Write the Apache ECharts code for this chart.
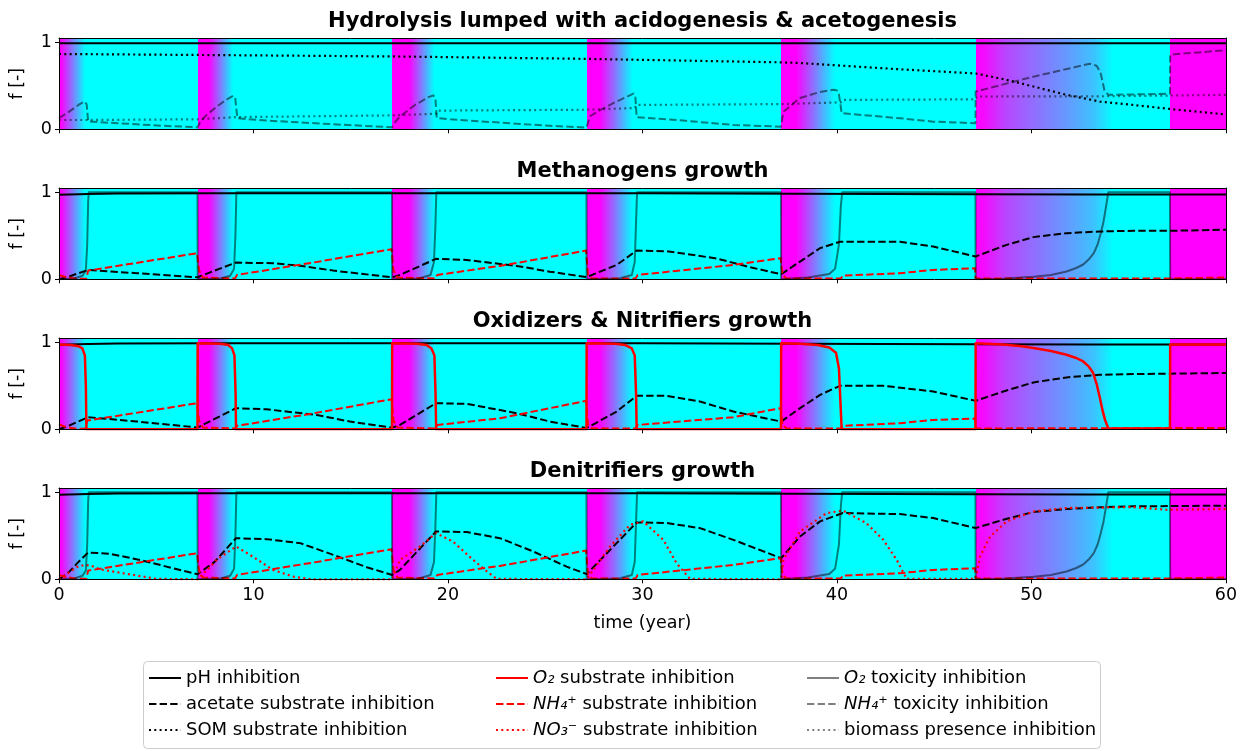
<!DOCTYPE html>
<html><head><meta charset="utf-8">
<script src="https://cdn.jsdelivr.net/npm/echarts/dist/echarts.min.js"></script>
<style>html,body{margin:0;padding:0;background:#fff}#c{width:1247px;height:751px}</style>
</head><body><div id="c"></div><script>
// ---------------- DATA ----------------
const titles = ['Hydrolysis lumped with acidogenesis & acetogenesis','Methanogens growth','Oxidizers & Nitrifiers growth','Denitrifiers growth'];
const periodStarts = [0, 7.13, 17.13, 27.13, 37.13, 47.13, 57.13];
const periodEnd = 60;
// background O2 level per period: [time, level] (1 = magenta / oxic, 0 = cyan / anoxic)
const bgO2 = [
  [[0,1],[0.1,1],[1.35,0]],
  [[7.13,1],[7.7,1],[8.95,0]],
  [[17.13,1],[18.0,1],[19.3,0]],
  [[27.13,1],[27.8,1],[29.5,0]],
  [[37.13,1],[37.9,1],[39.9,0]],
  [[47.13,1],[47.6,0.95],[48.7,0.72],[50.1,0.57],[51.8,0.4],[53.2,0.24],[54.2,0]],
  [[57.13,1],[60,1]]
];

const phHydro = [[0,0.99],[60,0.99]];
const phInhib = [[0,0.972],[0.5,0.976],[1.5,0.982],[3,0.988],[8,0.99],[30,0.99],[38,0.985],[47,0.978],[53,0.975],[60,0.974]];

const somHydro = [[0,0.866],[7.13,0.855],[17.13,0.838],[27.13,0.81],[37.13,0.77],[38.1,0.762],[43.24,0.69],[47.13,0.642],[48.72,0.569],[50.44,0.473],[51.81,0.396],[53.52,0.319],[55.23,0.28],[57.12,0.234],[59.86,0.173],[60,0.17]];

const nh4ToxHydro = [
 [0,0.13],[0.5,0.2],[1.0,0.28],[1.3,0.32],[1.42,0.29],[1.5,0.09],[3,0.07],[5.4,0.04],[7.12,0.023],
 [7.13,0.02],[7.3,0.1],[7.59,0.165],[8.1,0.26],[8.6,0.34],[8.96,0.385],[9.06,0.36],[9.17,0.127],[10.68,0.1],[14.1,0.058],[17.12,0.023],
 [17.13,0.02],[17.3,0.09],[17.53,0.146],[18.3,0.28],[19.0,0.37],[19.24,0.39],[19.35,0.36],[19.42,0.13],[20.1,0.115],[22.67,0.077],[25.24,0.04],[27.12,0.02],
 [27.13,0.02],[27.3,0.15],[27.81,0.22],[28.67,0.32],[29.53,0.41],[29.63,0.38],[29.7,0.14],[32.1,0.1],[34.67,0.05],[37.12,0.03],
 [37.13,0.03],[37.24,0.2],[38.1,0.36],[39.13,0.43],[39.81,0.454],[39.98,0.45],[40.1,0.4],[40.24,0.185],[43.24,0.127],[44.95,0.088],[47.12,0.07],
 [47.13,0.434],[50.0,0.6],[53.0,0.754],[53.35,0.73],[53.55,0.65],[53.75,0.45],[53.95,0.396],[56.95,0.408],[57.12,0.41],
 [57.13,0.858],[59.86,0.908],[60,0.91]];

const biomassHydro = [[0,0.107],[1.5,0.107],[7.13,0.115],[9.1,0.14],[9.2,0.153],[17.13,0.16],[19.4,0.18],[19.5,0.215],[27.13,0.225],[29.6,0.245],[29.7,0.28],[37.13,0.29],[40.2,0.31],[40.3,0.338],[47.13,0.345],[47.2,0.377],[53.9,0.38],[54.0,0.39],[60,0.396]];

const o2Tox = [
 [0,0],[0.8,0.01],[1.2,0.04],[1.38,0.1],[1.45,0.4],[1.5,0.9],[1.53,1],[7.12,1],[7.13,0],
 [8.3,0.01],[8.8,0.04],[9.0,0.12],[9.07,0.5],[9.12,1],[17.12,1],[17.13,0],
 [18.5,0.01],[19.1,0.05],[19.28,0.2],[19.35,0.6],[19.4,1],[27.12,1],[27.13,0],
 [28.8,0.01],[29.45,0.05],[29.6,0.2],[29.66,0.6],[29.72,1],[37.12,1],[37.13,0],
 [38.5,0.02],[39.6,0.06],[39.9,0.12],[40.1,0.4],[40.2,0.85],[40.27,1],[47.12,1],[47.13,0],
 [48.5,0.005],[50.1,0.03],[51.0,0.05],[51.8,0.09],[52.3,0.13],[52.66,0.17],[52.95,0.23],[53.2,0.3],[53.4,0.4],[53.55,0.52],[53.7,0.66],[53.82,0.82],[53.95,1],[57.12,1],[57.13,0],[60,0]];

const acetMeth = [
 [0,0],[0.5,0.03],[1.0,0.07],[1.5,0.108],[4,0.07],[7.13,0.023],
 [8.0,0.1],[9.1,0.192],[11.0,0.185],[12.4,0.155],[14.1,0.1],[17.13,0.023],
 [17.53,0.05],[19.38,0.235],[20.96,0.223],[23.53,0.154],[25.24,0.088],[27.13,0.025],
 [28.67,0.165],[29.7,0.33],[31.24,0.323],[33.81,0.24],[35.53,0.139],[37.13,0.058],
 [38.1,0.204],[39.13,0.358],[40.15,0.431],[43.24,0.431],[44.95,0.377],[47.13,0.262],
 [48.72,0.396],[50.1,0.485],[51.8,0.531],[53.5,0.55],[55.23,0.558],[57.12,0.558],[60,0.57]];

const nh4SubMeth = [
 [0,0.05],[0.3,0.03],[0.8,0.01],[1.4,0.005],[1.5,0.1],[7.1,0.3],[7.2,0.1],[7.4,0.02],
 [9.05,0.01],[9.15,0.05],[13,0.19],[17.1,0.346],[17.2,0.1],[17.4,0.02],
 [19.35,0.01],[19.45,0.05],[22.67,0.154],[27.1,0.33],[27.2,0.05],[27.4,0.01],
 [29.65,0.01],[29.75,0.05],[34.67,0.165],[37.1,0.243],[37.2,0.05],[37.4,0.01],
 [40.2,0.01],[40.3,0.042],[43.24,0.07],[44.95,0.108],[47.1,0.127],[47.13,0.01],
 [57.1,0.01],[60,0.02]];

const acetOxid = [
 [0,0],[0.5,0.04],[1.0,0.09],[1.5,0.139],[4,0.09],[7.13,0.02],
 [8.0,0.12],[9.1,0.243],[10.68,0.23],[13.25,0.165],[14.96,0.089],[17.13,0.019],
 [17.53,0.05],[19.38,0.3],[20.96,0.293],[23.53,0.185],[25.24,0.089],[27.13,0.015],
 [28.67,0.204],[29.7,0.385],[31.24,0.385],[32.95,0.32],[34.67,0.204],[37.13,0.089],
 [38.1,0.243],[39.13,0.396],[40.15,0.5],[42.38,0.5],[44.95,0.435],[47.13,0.327],
 [48.55,0.435],[50.1,0.539],[51.8,0.597],[53.5,0.627],[55.23,0.635],[60,0.647]];

const o2SubOxid = [
 [0,0.975],[0.6,0.97],[1.0,0.955],[1.2,0.93],[1.33,0.85],[1.38,0.5],[1.41,0],[7.12,0],
 [7.13,0.99],[8.3,0.985],[8.7,0.97],[8.9,0.93],[9.02,0.85],[9.08,0.4],[9.1,0],[17.12,0],
 [17.13,0.99],[18.4,0.985],[18.9,0.97],[19.15,0.93],[19.3,0.85],[19.36,0.4],[19.39,0],[27.12,0],
 [27.13,0.99],[28.6,0.985],[29.1,0.97],[29.45,0.93],[29.6,0.85],[29.67,0.4],[29.7,0],[37.12,0],
 [37.13,0.99],[38.1,0.985],[39.0,0.97],[39.6,0.94],[39.95,0.88],[40.1,0.7],[40.18,0.3],[40.24,0],[47.12,0],
 [47.13,0.99],[48.55,0.974],[49.5,0.955],[50.1,0.935],[51.0,0.9],[51.8,0.858],[52.3,0.82],[52.66,0.78],[52.95,0.72],[53.17,0.647],[53.35,0.52],[53.5,0.377],[53.65,0.22],[53.78,0.108],[53.95,0.01],[57.12,0.01],
 [57.13,0.974],[60,0.974]];

const nh4SubOxid = [
 [0,0.058],[0.3,0.03],[0.8,0.01],[1.35,0.005],[1.45,0.1],[7.1,0.3],[7.2,0.1],[7.4,0.02],
 [9.05,0.01],[9.15,0.04],[13,0.18],[17.1,0.346],[17.2,0.1],[17.4,0.02],
 [19.35,0.01],[19.45,0.05],[22.67,0.127],[27.1,0.327],[27.2,0.05],[27.4,0.01],
 [29.65,0.01],[29.75,0.05],[34.67,0.139],[37.1,0.243],[37.2,0.05],[37.4,0.01],
 [40.2,0.01],[40.3,0.04],[43.24,0.07],[44.95,0.108],[47.1,0.123],[47.13,0.01],[60,0.015]];

const acetDenit = [
 [0,0],[0.5,0.08],[1.0,0.2],[1.5,0.308],[2.62,0.293],[4.16,0.223],[5.87,0.127],[7.13,0.058],
 [8.0,0.2],[9.1,0.473],[10.68,0.462],[12.4,0.416],[14.1,0.281],[15.82,0.139],[17.13,0.05],
 [17.53,0.108],[19.38,0.55],[20.96,0.543],[22.67,0.473],[24.38,0.32],[26.1,0.146],[27.13,0.06],
 [28.67,0.416],[29.7,0.654],[31.24,0.647],[32.95,0.589],[34.67,0.454],[37.13,0.243],
 [38.1,0.493],[39.13,0.666],[40.3,0.762],[43.24,0.75],[44.95,0.704],[47.13,0.589],
 [48.55,0.685],[50.1,0.774],[51.8,0.808],[53.5,0.828],[55.23,0.839],[60,0.847]];

const no3SubDenit = [
 [0,0],[0.4,0.06],[0.9,0.14],[1.3,0.165],[1.6,0.16],[2.1,0.115],[3.82,0.05],[5.0,0.005],[7.13,0],
 [7.8,0.15],[8.1,0.223],[9.1,0.377],[9.97,0.26],[11.0,0.108],[12.06,0.03],[13,0],[17.13,0],
 [17.53,0.223],[18.56,0.377],[19.38,0.531],[20.25,0.435],[21.1,0.262],[21.8,0.127],[22.5,0.005],[27.13,0],
 [28.33,0.377],[29.36,0.627],[30.04,0.666],[31.07,0.454],[31.75,0.185],[32.44,0.005],[37.13,0],
 [37.24,0.223],[38.1,0.55],[39.47,0.762],[40.3,0.79],[41.5,0.647],[42.38,0.454],[43.07,0.223],[43.58,0.005],[47.13,0.005],
 [47.35,0.26],[47.87,0.49],[48.72,0.666],[50.1,0.78],[51.8,0.82],[55.2,0.83],[56.95,0.8],[57.13,0.8],[60,0.808]];

const nh4SubDenit = nh4SubMeth;

// names
const N = {
  ph:'pH inhibition', acet:'acetate substrate inhibition', som:'SOM substrate inhibition',
  o2s:'O₂ substrate inhibition', nh4s:'NH₄⁺ substrate inhibition', no3s:'NO₃⁻ substrate inhibition',
  o2t:'O₂ toxicity inhibition', nh4t:'NH₄⁺ toxicity inhibition', bio:'biomass presence inhibition'
};
const legendCols = [[N.ph,N.acet,N.som],[N.o2s,N.nh4s,N.no3s],[N.o2t,N.nh4t,N.bio]];

// ---------------- STYLES ----------------
const DASH = [7.4,3.2], DOT = [2,3.3];
const GREY = 'rgba(0,0,0,0.5)';
const styles = {
  [N.ph]:{color:'#000',type:'solid',width:2},
  [N.acet]:{color:'#000',type:DASH,width:2},
  [N.som]:{color:'#000',type:DOT,width:2.2},
  [N.o2s]:{color:'#ff0000',type:'solid',width:2.5},
  [N.nh4s]:{color:'#ff0000',type:DASH,width:2},
  [N.no3s]:{color:'#ff0000',type:DOT,width:2.2},
  [N.o2t]:{color:GREY,type:'solid',width:2},
  [N.nh4t]:{color:GREY,type:DASH,width:2},
  [N.bio]:{color:GREY,type:DOT,width:2.2}
};

const panels = [
  [[N.ph,phHydro],[N.som,somHydro],[N.nh4t,nh4ToxHydro],[N.bio,biomassHydro]],
  [[N.acet,acetMeth],[N.nh4s,nh4SubMeth],[N.o2t,o2Tox],[N.ph,phInhib]],
  [[N.acet,acetOxid],[N.nh4s,nh4SubOxid],[N.ph,phInhib],[N.o2s,o2SubOxid]],
  [[N.acet,acetDenit],[N.nh4s,nh4SubDenit],[N.no3s,no3SubDenit],[N.o2t,o2Tox],[N.ph,phInhib]]
];

// ---------------- BUILD ----------------
const FONT = 'DejaVu Sans';
const FS = 17.5, LFS = 18;
function cool(t){ return 'rgb(' + Math.round(255*t) + ',' + Math.round(255*(1-t)) + ',255)'; }
// one gradient over the whole time axis, with hard edges at period starts
function bgGradient(){
  const stops = [];
  bgO2.forEach((ps, i) => {
    const end = i < periodStarts.length - 1 ? periodStarts[i+1] : periodEnd;
    ps.forEach(([x, t]) => stops.push({offset:x/periodEnd, color:cool(t)}));
    const last = ps[ps.length-1];
    if (last[0] < end) stops.push({offset:end/periodEnd, color:cool(last[1])});
  });
  return {type:'linear', x:0, y:0, x2:1, y2:0, colorStops:stops};
}

const grids = [], xAxes = [], yAxes = [], series = [];
const top0 = 38, step = 150, h = 91.3;
for (let k = 0; k < 4; k++) {
  grids.push({left:59, width:1167, top:top0 + step*k, height:h, show:false});
  xAxes.push({gridIndex:k, type:'value', min:0, max:60, interval:10, z:10,
    axisLine:{show:true,onZero:false,lineStyle:{color:'#000',width:1}},
    axisTick:{show:true,length:4,lineStyle:{color:'#000',width:1}},
    axisLabel:{show:k===3,fontSize:FS,color:'#000',fontFamily:FONT,margin:7},
    splitLine:{show:false},
    name:k===3?'time (year)':'', nameLocation:'middle', nameGap:35,
    nameTextStyle:{fontSize:FS,color:'#000',fontFamily:FONT}});
  xAxes.push({gridIndex:k, type:'value', position:'top', min:0, max:60, z:10,
    axisLine:{show:true,onZero:false,lineStyle:{color:'#000',width:1}},
    axisTick:{show:false}, axisLabel:{show:false}, splitLine:{show:false}});
  yAxes.push({gridIndex:k, type:'value', min:0, max:1.05, interval:1, z:10,
    axisLine:{show:true,onZero:false,lineStyle:{color:'#000',width:1}},
    axisTick:{show:true,length:4,lineStyle:{color:'#000'},customValues:[0,1]},
    axisLabel:{fontSize:FS,color:'#000',fontFamily:FONT,margin:7,customValues:[0,1],
      formatter:v => (v===0||v===1) ? String(v) : ''},
    splitLine:{show:false},
    name:'f [-]', nameLocation:'middle', nameGap:33, nameRotate:90,
    nameTextStyle:{fontSize:FS,color:'#000',fontFamily:FONT}});
  yAxes.push({gridIndex:k, type:'value', position:'right', min:0, max:1.05, z:10,
    axisLine:{show:true,onZero:false,lineStyle:{color:'#000',width:1}},
    axisTick:{show:false}, axisLabel:{show:false}, splitLine:{show:false}});

  // background (O2 level coloured with a cyan-magenta scale)
  series.push({type:'line', xAxisIndex:2*k, yAxisIndex:2*k, data:[], silent:true, z:0,
    symbol:'none', lineStyle:{opacity:0},
    markArea:{silent:true, label:{show:false},
      data:[[{xAxis:0, itemStyle:{color:bgGradient(), opacity:1}},{xAxis:periodEnd}]]}});
  panels[k].forEach(([name, data]) => {
    const st = styles[name];
    series.push({type:'line', name, xAxisIndex:2*k, yAxisIndex:2*k, data, symbol:'none', showSymbol:false,
      clip:true, z:3, animation:false, color:st.color,
      lineStyle:{color:st.color, type:st.type, width:st.width, cap:'butt', join:'round'},
      emphasis:{disabled:true}});
  });
}

const titleOpts = titles.map((t,k) => ({text:t, left:642.5, top:11 + step*k, textAlign:'center', padding:0,
  textStyle:{fontSize:21, fontWeight:'bold', color:'#000', fontFamily:FONT}}));

const textStarts = [185, 532, 843];
const rowCenters = [677, 703, 729];
const IW = 32;
const legends = [];
legendCols.forEach((col, c) => col.forEach((name, r) => {
  legends.push({data:[name], left:textStarts[c] - 5 - IW, top:rowCenters[r] - 8, padding:0,
    itemWidth:IW, itemHeight:14, selectedMode:false,
    itemStyle:{opacity:0, borderWidth:0},
    textStyle:{fontSize:LFS, color:'#000', fontFamily:FONT, rich:{i:{fontStyle:'italic',fontSize:LFS,color:'#000',fontFamily:FONT}}},
    formatter:n => {
      const m = n.match(/^(O₂|NH₄⁺|NO₃⁻)(.*)$/);
      return m ? '{i|' + m[1] + '}' + m[2] : n;
    }});
}));

const chart = echarts.init(document.getElementById('c'), null, {renderer:'canvas'});
chart.setOption({
  animation:false,
  backgroundColor:'#fff',
  textStyle:{fontFamily:FONT},
  title:titleOpts,
  grid:grids, xAxis:xAxes, yAxis:yAxes, series,
  legend:legends,
  graphic:[{type:'rect', left:143, top:661, shape:{width:957, height:87, r:4},
    style:{fill:'rgba(255,255,255,0.8)', stroke:'#cccccc', lineWidth:1}, z:-10, silent:true}]
});
</script></body></html>
